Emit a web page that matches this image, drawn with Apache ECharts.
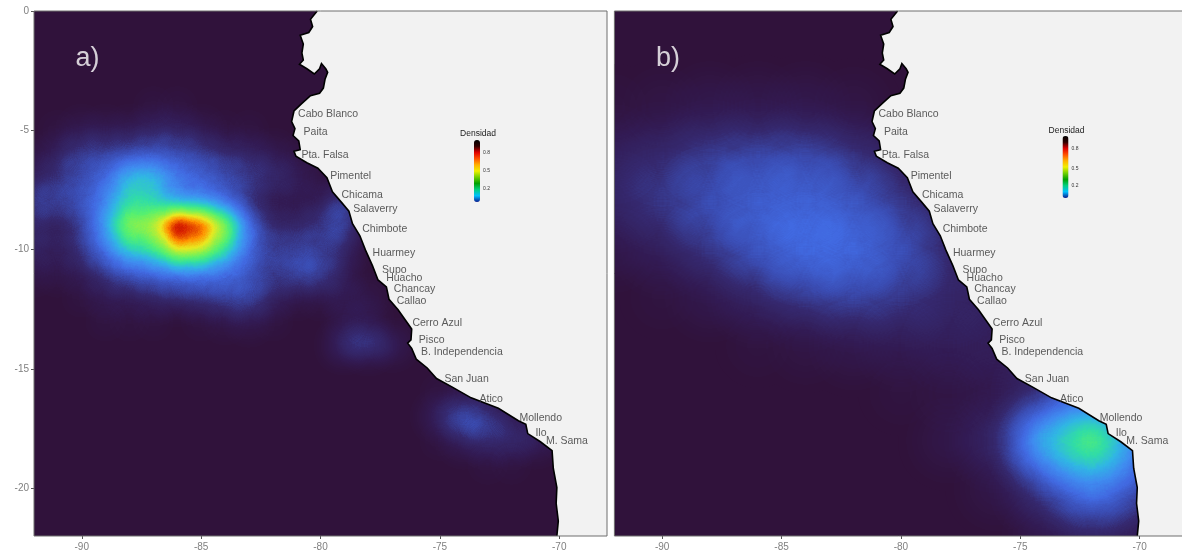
<!DOCTYPE html>
<html><head><meta charset="utf-8">
<style>html,body{margin:0;padding:0;background:#fff}#c{width:1182px;height:552px}</style>
<script src="https://cdn.jsdelivr.net/npm/echarts@6/dist/echarts.min.js"></script>
</head><body><div id="c"></div>
<script>
const xTicks=[-90,-85,-80,-75,-70];
const yTicks=[0,-5,-10,-15,-20];
const lonsA=[-92,-91,-90,-89,-88,-87,-86,-85,-84,-83,-82,-81,-80,-79,-78,-77,-76,-75,-74,-73,-72,-71,-70];
const latsA=[-4,-5,-6,-7,-8,-9,-10,-11,-12,-13,-14,-15,-16,-17,-18,-19];
const densityA=[
[0,0,0,0,0,.01,.01,0,0,0,0,0,0,0,0],
[0,.01,.03,.03,.03,.05,.05,.03,.01,.01,0,0,0,0,0],
[.01,.05,.08,.08,.09,.10,.09,.08,.06,.05,.03,.01,0,0,0],
[.04,.06,.09,.12,.27,.27,.15,.12,.09,.07,.06,.04,.01,0,0],
[.09,.08,.10,.16,.30,.26,.15,.17,.12,.06,.02,.02,.03,.10,0],
[.05,.03,.07,.20,.50,.46,1,.80,.50,.13,.05,.05,.07,.10,0],
[.05,.03,.07,.14,.28,.29,.55,.50,.30,.12,.07,.08,.07,.05,0],
[.02,.02,.03,.07,.10,.12,.13,.14,.12,.10,.06,.10,.10,.03,0],
[0,0,.01,.03,.03,.05,.06,.07,.09,.10,.05,.02,.02,.03,.02],
[0,0,0,.01,.01,.01,0,.01,.02,.03,.01,0,0,.02,.03],
[0,0,0,0,0,0,0,0,0,0,0,0,0,.07,.09,.04],
[],
[0,0,0,0,0,0,0,0,0,0,0,0,0,0,0,0,0,.01,.02,.01],
[0,0,0,0,0,0,0,0,0,0,0,0,0,0,0,0,0,.06,.12,.08,.03,.01],
[0,0,0,0,0,0,0,0,0,0,0,0,0,0,0,0,0,.01,.05,.06,.06,.05,.01],
[0,0,0,0,0,0,0,0,0,0,0,0,0,0,0,0,0,0,0,.01,.01,0]
];
const lonsB=[-92,-90,-88,-86,-84,-82,-80,-78,-76,-74,-72,-70,-68];
const latsB=[-4,-6,-8,-10,-12,-14,-16,-18,-20,-22];
const densityB=[
[.005,.01,.02,.02,.02,.01,0],
[.035,.05,.07,.08,.085,.06,.03],
[.045,.065,.09,.11,.115,.10,.065,.03],
[.015,.035,.065,.10,.13,.125,.095,.05,.02],
[0,.005,.02,.045,.07,.08,.065,.045,.03],
[0,0,0,.005,.01,.02,.025,.03,.03,.02,.01],
[0,0,0,0,0,0,.005,.01,.02,.06,.10,.03],
[0,0,0,0,0,0,0,.015,.05,.24,.38,.15],
[0,0,0,0,0,0,0,0,.015,.08,.16,.09],
[0,0,0,0,0,0,0,0,0,.015,.04,.02]
];
const coast=[[-80.14,0],[-80.42,-.35],[-80.33,-.65],[-80.49,-.9],[-80.85,-1.02],[-80.72,-1.39],[-80.78,-1.76],[-80.72,-2.05],[-80.88,-2.23],[-80.57,-2.42],[-80.26,-2.64],[-80.04,-2.42],[-79.96,-2.2],[-79.78,-2.42],[-79.7,-2.57],[-79.81,-2.86],[-79.88,-3.23],[-80.04,-3.45],[-80.42,-3.55],[-80.8,-3.89],[-81.11,-4.19],[-81.21,-4.63],[-81.07,-4.93],[-81.15,-5.22],[-80.91,-5.44],[-80.85,-5.81],[-81.11,-5.88],[-81.03,-6.08],[-80.57,-6.36],[-80.11,-6.59],[-79.73,-6.99],[-79.5,-7.58],[-79.12,-8.02],[-78.81,-8.39],[-78.66,-8.91],[-78.35,-9.42],[-78.12,-10.01],[-77.82,-10.68],[-77.59,-11.27],[-77.24,-11.56],[-77.13,-12.08],[-76.75,-12.52],[-76.44,-12.96],[-76.18,-13.33],[-76.21,-13.78],[-76.35,-13.92],[-76.18,-14.14],[-75.99,-14.59],[-75.53,-14.96],[-75.14,-15.4],[-74.46,-15.77],[-73.69,-16.21],[-72.55,-16.65],[-71.71,-17.17],[-71.4,-17.32],[-71.32,-17.71],[-70.79,-18.05],[-70.3,-18.42],[-70.25,-19.16],[-70.1,-19.97],[-70.13,-20.63],[-70.04,-21.37],[-70.1,-22]];
const landCorners=[[-68,-22],[-68,0]];
const placeNames=['Cabo Blanco','Paita','Pta. Falsa','Pimentel','Chicama','Salaverry','Chimbote','Huarmey','Supo','Huacho','Chancay','Callao','Cerro Azul','Pisco','B. Independencia','San Juan','Atico','Mollendo','Ilo','M. Sama'];
const placeLons=[-80.94,-80.71,-80.8,-79.59,-79.12,-78.63,-78.25,-77.82,-77.42,-77.25,-76.93,-76.81,-76.15,-75.88,-75.79,-74.81,-73.34,-71.67,-71,-70.56];
const placeLats=[-4.29,-5.04,-5.99,-6.86,-7.68,-8.24,-9.1,-10.09,-10.81,-11.14,-11.61,-12.12,-13.02,-13.73,-14.26,-15.4,-16.24,-17.03,-17.65,-17.99];
const fieldColors=['#30123b','#321a52','#35296f','#3a4bb0','#4169e1','#3f8cf0','#30b5e5','#30dca8','#55f070','#95f045','#e8e820','#ff9000','#d82000','#801000','#601000','#500000','#500000','#500000','#500000','#500000','#500000'];
const barColors=['#0a1a90','#00c0ff','#00d080','#00a000','#70d000','#f0f000','#ffb000','#ff5000','#e00000','#300000','#000000'];
const barTicks=['0.8','0.5','0.2'];

const brushGamma=0.7;
function cells(lons,lats,rows){const out=[];rows.forEach((r,i)=>r.forEach((v,j)=>{if(v>0)out.push([lons[j],lats[i],Math.pow(v,brushGamma)]);}));return out;}
echarts.registerMap('frame',{type:'FeatureCollection',features:[{type:'Feature',properties:{name:'f'},geometry:{type:'Polygon',coordinates:[[[-92,0],[-68,0],[-68,-22],[-92,-22],[-92,0]]]}}]});
const font='"Liberation Sans",Arial,sans-serif';
const panels=[{left:34,tag:'a)',barX:474,barY:140,titleX:478,titleY:134,tickX:483,tickY:[153,170.5,189]},
 {left:614.4,tag:'b)',barX:1062.5,barY:136,titleX:1066.5,titleY:130.5,tickX:1071.5,tickY:[149,168.7,186]}];
const W=573,H=525,T=11;
const option={animation:false,
 grid:panels.map(p=>({left:p.left,top:T,width:W,height:H,show:true,backgroundColor:'#30123b',borderWidth:0,containLabel:false,outerBoundsMode:'none'})),
 geo:panels.map(p=>({map:'frame',left:p.left,top:T,width:W,height:H,aspectScale:1,roam:false,silent:true,boundingCoords:[[-92,0],[-68,-22]],itemStyle:{areaColor:'transparent',borderWidth:0},label:{show:false},emphasis:{disabled:true}})),
 xAxis:panels.map((p,i)=>({gridIndex:i,type:'value',min:-92,max:-68,splitLine:{show:false},axisLine:{show:false,onZero:false},
   axisTick:{show:true,length:3,lineStyle:{color:'#555'},customValues:xTicks},
   axisLabel:{color:'#808080',fontSize:10,fontFamily:font,margin:6,customValues:xTicks}})),
 yAxis:panels.map((p,i)=>({gridIndex:i,type:'value',min:-22,max:0,show:i===0,splitLine:{show:false},axisLine:{show:false,onZero:false},
   axisTick:{show:true,length:3,lineStyle:{color:'#555'},customValues:yTicks},
   axisLabel:{color:'#808080',fontSize:10,fontFamily:font,margin:5,customValues:yTicks}})),
 visualMap:[
  {type:'continuous',show:false,min:0,max:1,seriesIndex:[0],inRange:{color:fieldColors},calculable:false},
  {type:'continuous',show:false,min:0,max:1,seriesIndex:[1],inRange:{color:fieldColors},calculable:false}
 ].concat(panels.map(p=>({type:'continuous',show:true,min:0,max:1,seriesIndex:[],left:p.barX,top:p.barY,padding:0,itemWidth:6,itemHeight:62,calculable:false,showLabel:false,text:['',''],hoverLink:false,realtime:false,inRange:{color:barColors}}))),
 graphic:panels.flatMap(p=>[{type:'text',z:20,x:p.titleX,y:p.titleY,style:{text:'Densidad',fontSize:8.5,fontFamily:font,fill:'#222',align:'center',verticalAlign:'middle'}}]
   .concat(barTicks.map((t,k)=>({type:'text',z:20,x:p.tickX,y:p.tickY[k],style:{text:t,fontSize:5,fontFamily:font,fill:'#333',align:'left',verticalAlign:'middle'}})))),
 series:[
  {type:'heatmap',coordinateSystem:'geo',geoIndex:0,data:cells(lonsA,latsA,densityA),pointSize:14,blurSize:26,minOpacity:1,maxOpacity:1,z:2,silent:true},
  {type:'heatmap',coordinateSystem:'geo',geoIndex:1,data:cells(lonsB,latsB,densityB),pointSize:28,blurSize:40,minOpacity:1,maxOpacity:1,z:2,silent:true}
 ]
};
panels.forEach((p,i)=>{
 option.series.push({type:'custom',xAxisIndex:i,yAxisIndex:i,z:3,silent:true,clip:false,data:[[-80,-10]],
  renderItem:(params,api)=>{
   const c=coast.map(q=>api.coord(q));
   const poly=c.concat(landCorners.map(q=>api.coord(q)));
   const tl=api.coord([-92,0]),br=api.coord([-68,-22]);
   return {type:'group',children:[
    {type:'polygon',shape:{points:poly},style:{fill:'#f2f2f2',stroke:null}},
    {type:'polyline',shape:{points:c},style:{fill:null,stroke:'#000',lineWidth:1.6}},
    {type:'rect',shape:{x:tl[0],y:tl[1],width:br[0]-tl[0],height:br[1]-tl[1]},style:{fill:null,stroke:'#6e6e6e',lineWidth:1}}
   ]};
  }});
 option.series.push({type:'scatter',xAxisIndex:i,yAxisIndex:i,z:4,silent:true,symbolSize:0,
  data:placeNames.map((n,k)=>({name:n,value:[placeLons[k],placeLats[k]]})),
  label:{show:true,position:'right',distance:0,offset:[0,1],formatter:'{b}',fontSize:10.5,fontFamily:font,color:'#333'}});
 option.series.push({type:'scatter',xAxisIndex:i,yAxisIndex:i,z:4,silent:true,symbolSize:0,
  data:[{name:p.tag,value:[-90.3,-1.95]}],
  label:{show:true,position:'right',distance:0,offset:[1,1],formatter:'{b}',fontSize:27,fontFamily:font,color:'#fff'}});
});
const chart=echarts.init(document.getElementById('c'),null,{renderer:'canvas'});
chart.setOption(option);
</script></body></html>
